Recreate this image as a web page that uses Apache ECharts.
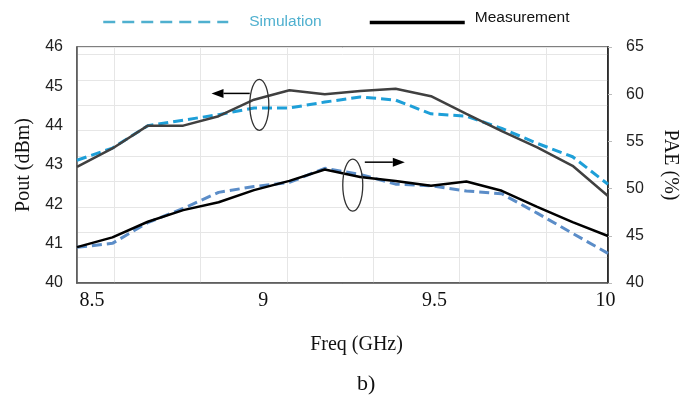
<!DOCTYPE html>
<html><head><meta charset="utf-8">
<script src="https://cdn.jsdelivr.net/npm/echarts@6/dist/echarts.min.js"></script>
<style>html,body{margin:0;padding:0;background:#fff}#c{width:690px;height:399px}</style>
</head><body><div id="c"></div>
<script>
// ---- data ----
const freq = [8.5, 8.6, 8.7, 8.8, 8.9, 9.0, 9.1, 9.2, 9.3, 9.4, 9.5, 9.6, 9.7, 9.8, 9.9, 10.0];
const poutSim  = [43.12, 43.43, 44.00, 44.14, 44.28, 44.45, 44.45, 44.60, 44.73, 44.65, 44.30, 44.24, 43.93, 43.55, 43.21, 42.51];
const poutMeas = [42.95, 43.42, 44.00, 44.00, 44.24, 44.66, 44.90, 44.80, 44.88, 44.94, 44.75, 44.30, 43.86, 43.45, 42.98, 42.21];
const paeSim   = [43.78, 44.20, 46.40, 47.90, 49.60, 50.22, 50.66, 52.15, 51.50, 50.47, 50.30, 49.75, 49.45, 47.40, 45.26, 43.14];
const paeMeas  = [43.80, 44.83, 46.49, 47.72, 48.55, 49.84, 50.82, 52.03, 51.22, 50.80, 50.30, 50.75, 49.77, 48.07, 46.45, 44.98];
const freqTicks = [8.5, 9, 9.5, 10];
const poutRange = [40, 46];
const paeRange = [40, 65];

const serif = '"Liberation Serif", "Times New Roman", serif';
const sans = '"Liberation Sans", Arial, sans-serif';

const chart = echarts.init(document.getElementById('c'), null, {renderer: 'canvas'});
const pairs = arr => freq.map((f, i) => [f, arr[i]]);
const noZero = {onZero: false};

chart.setOption({
  animation: false,
  backgroundColor: '#fff',
  title: {
    text: 'b)', left: 352, top: 368,
    textStyle: {fontFamily: serif, fontSize: 22, fontWeight: 'normal', color: '#111'}
  },
  legend: [
    {
      left: 102, top: 14, padding: 0, selectedMode: false,
      itemWidth: 125, itemHeight: 10,
      data: [{name: 'Simulation',
        itemStyle: {opacity: 0, borderWidth: 0},
        lineStyle: {color: '#4fb0cf', type: [12, 7], width: 2.5},
        textStyle: {color: '#4fb0cf', padding: [0, 0, 0, 16]}}],
      textStyle: {fontFamily: sans, fontSize: 15.5}
    },
    {
      left: 368, top: 10, padding: 0, selectedMode: false,
      itemWidth: 95, itemHeight: 10,
      formatter: '{m|{name}}',
      data: [{name: 'Measurement',
        itemStyle: {opacity: 0, borderWidth: 0},
        lineStyle: {color: '#000', type: 'solid', width: 3.5}}],
      textStyle: {fontFamily: sans, fontSize: 15.5, color: '#111',
        rich: {m: {fontFamily: sans, fontSize: 15.5, color: '#111', padding: [0, 0, 9, 5]}}}
    }
  ],
  grid: {left: 77, right: 82, top: 47, bottom: 116, show: true, borderColor: '#555', borderWidth: 1.5, backgroundColor: 'transparent'},
  xAxis: [
    { // data axis
      type: 'value', min: 8.5, max: 10, show: false, axisLine: noZero
    },
    { // labelled frequency axis
      type: 'value', min: 8.456, max: 10.007, position: 'bottom',
      axisLine: {show: true, onZero: false, lineStyle: {color: '#555', width: 1.5}},
      axisTick: {show: false}, splitLine: {show: false},
      axisLabel: {customValues: freqTicks, fontFamily: serif, fontSize: 20, color: '#111', margin: 8},
      name: 'Freq (GHz)', nameLocation: 'middle', nameGap: 52,
      nameTextStyle: {fontFamily: serif, fontSize: 20, color: '#111', padding: [0, 0, 0, 28]}
    },
    { // background vertical grid
      type: 'value', min: -0.428, max: 5.717, splitNumber: 6, position: 'top',
      axisLine: {show: false, onZero: false}, axisTick: {show: false}, axisLabel: {show: false},
      splitLine: {show: true, lineStyle: {color: '#e6e6e6', width: 1}}
    }
  ],
  yAxis: [
    {
      type: 'value', min: poutRange[0], max: poutRange[1], interval: 1, position: 'left',
      axisLine: {show: true, onZero: false, lineStyle: {color: '#555', width: 1.5}},
      axisTick: {show: false}, splitLine: {show: false},
      axisLabel: {fontFamily: sans, fontSize: 16, color: '#222', margin: 14},
      name: 'Pout (dBm)', nameLocation: 'middle', nameGap: 43,
      nameTextStyle: {fontFamily: serif, fontSize: 20, color: '#111'}
    },
    {
      type: 'value', min: paeRange[0], max: paeRange[1], interval: 5, position: 'right',
      axisLine: {show: true, onZero: false, lineStyle: {color: '#111', width: 1.5}},
      axisTick: {show: true, length: 4, lineStyle: {color: '#bbb'}}, splitLine: {show: false},
      axisLabel: {fontFamily: sans, fontSize: 16, color: '#222', margin: 18},
      name: 'PAE (%)', nameLocation: 'middle', nameGap: 52, nameRotate: -90,
      nameTextStyle: {fontFamily: serif, fontSize: 20, color: '#111'}
    },
    { // background horizontal grid
      type: 'value', min: 0, max: 9.3, splitNumber: 9, position: 'left',
      axisLine: {show: false, onZero: false}, axisTick: {show: false}, axisLabel: {show: false},
      splitLine: {show: true, lineStyle: {color: '#e6e6e6', width: 1}}
    }
  ],
  series: [
    {name: 'Simulation', type: 'line', xAxisIndex: 0, yAxisIndex: 0, data: pairs(poutSim), symbol: 'none',
     lineStyle: {color: '#1e9fd8', width: 3, type: [10, 5]}, itemStyle: {color: '#1e9fd8'}, z: 3},
    {name: 'Measurement', type: 'line', xAxisIndex: 0, yAxisIndex: 0, data: pairs(poutMeas), symbol: 'none',
     lineStyle: {color: '#404040', width: 2.5}, itemStyle: {color: '#404040'}, z: 4},
    {name: 'Simulation', type: 'line', xAxisIndex: 0, yAxisIndex: 1, data: pairs(paeSim), symbol: 'none',
     lineStyle: {color: '#5b8dc8', width: 3, type: [10, 5]}, itemStyle: {color: '#5b8dc8'}, z: 3},
    {name: 'Measurement', type: 'line', xAxisIndex: 0, yAxisIndex: 1, data: pairs(paeMeas), symbol: 'none',
     lineStyle: {color: '#000', width: 2.5}, itemStyle: {color: '#000'}, z: 4}
  ]
});

// ---- annotations (ellipse + arrow), anchored in data coordinates ----
function px(x, y, yi) { return chart.convertToPixel({xAxisIndex: 0, yAxisIndex: yi}, [x, y]); }
function arrow(from, to) {
  const dx = to[0] - from[0], dy = to[1] - from[1];
  const L = Math.hypot(dx, dy), ux = dx / L, uy = dy / L;
  const hl = 12, hw = 4.5;
  const bx = to[0] - ux * hl, by = to[1] - uy * hl;
  return [
    {type: 'line', shape: {x1: from[0], y1: from[1], x2: bx, y2: by}, style: {stroke: '#000', lineWidth: 1.5}, z: 10},
    {type: 'polygon', shape: {points: [to, [bx - uy * hw, by + ux * hw], [bx + uy * hw, by - ux * hw]]}, style: {fill: '#000'}, z: 10}
  ];
}
const e1 = px(9.015, 44.53, 0);
const e2 = px(9.279, 50.37, 1);
const g = [
  {type: 'ellipse', shape: {cx: e1[0], cy: e1[1], rx: 9.5, ry: 25.5}, style: {fill: 'none', stroke: '#333', lineWidth: 1.3}, z: 10},
  {type: 'ellipse', shape: {cx: e2[0], cy: e2[1], rx: 10, ry: 26}, style: {fill: 'none', stroke: '#333', lineWidth: 1.3}, z: 10}
].concat(arrow(px(8.988, 44.82, 0), px(8.88, 44.82, 0)))
 .concat(arrow(px(9.313, 52.8, 1), px(9.426, 52.8, 1)));
chart.setOption({graphic: g});
</script>
</body></html>
